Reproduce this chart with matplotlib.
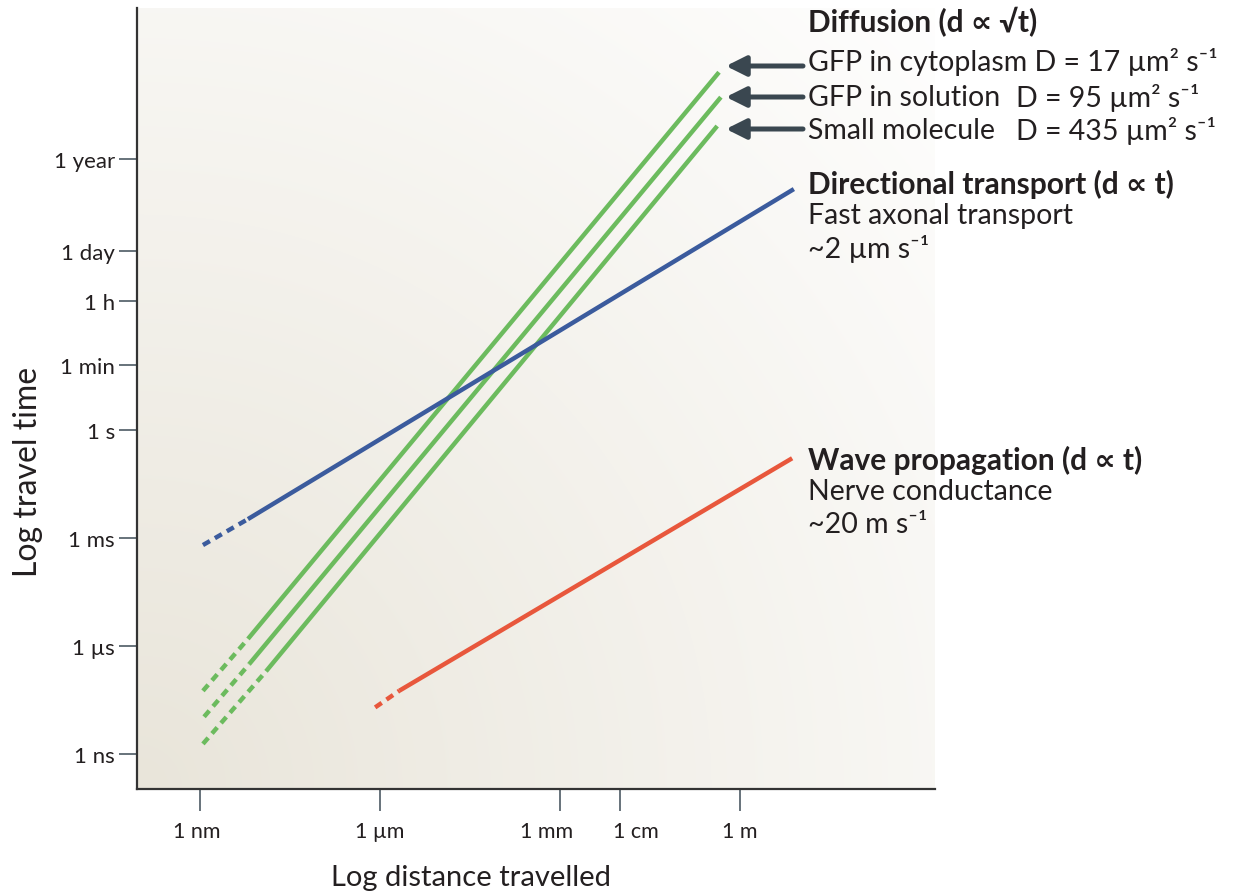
import numpy as np
import matplotlib
matplotlib.use('Agg')
import matplotlib.pyplot as plt
from matplotlib.transforms import ScaledTranslation

plt.rcParams['font.family'] = ['Lato', 'DejaVu Sans']

# tick positions (metres / seconds) and labels
xticks = [1e-9, 1e-6, 1e-3, 1e-2, 1.0]
xticklabels = ['1 nm', '1 \u00b5m', '1 mm', '1 cm', '1 m']
yticks = [1e-9, 1e-6, 1e-3, 1.0, 60.0, 3600.0, 86400.0, 3.156e7]
yticklabels = ['1 ns', '1 \u00b5s', '1 ms', '1 s', '1 min', '1 h', '1 day', '1 year']

# lines: [start of dashed part, start of solid part, end]
diff_names = ['GFP in cytoplasm', 'GFP in solution', 'Small molecule']
diff_D = [17, 95, 435]
diff_d = [[1.12e-9, 6.3e-9, 0.447],
          [1.17e-9, 6.6e-9, 0.48],
          [1.12e-9, 1.26e-8, 0.417]]
diff_t = [[5.75e-8, 1.58e-6, 7.94e9],
          [1.1e-8, 3.16e-7, 1.62e9],
          [1.95e-9, 2.0e-7, 2.57e8]]

axonal_d = [1.12e-9, 6.3e-9, 7.9]
axonal_t = [6.3e-4, 3.3e-3, 4.6e6]

nerve_d = [8.3e-7, 2.1e-6, 7.4]
nerve_t = [2.0e-8, 5.8e-8, 0.16]

green = '#6cbb5e'
blue = '#3b5b9d'
red = '#e8573c'
dark = '#3a4750'
txtcol = '#231f20'

W, H = 1240, 895
def fx(px):
    return px / W
def fy(py):
    return 1 - py / H

fig = plt.figure(figsize=(12.4, 8.95), dpi=100)
ax = fig.add_axes([fx(137), fy(790), fx(935) - fx(137), fy(9) - fy(790)])
ax.set_xscale('log')
ax.set_yscale('log')
ax.set_xlim(10**-10.05, 10**3.25)
ax.set_ylim(10**-9.96, 10**11.68)

# radial background from the lower left corner
nx, ny = 400, 400
aw, ah = 798, 781
gx, gy = np.meshgrid(np.linspace(0, aw, nx), np.linspace(0, ah, ny))
r = np.clip(np.sqrt(gx**2 + gy**2) / 1150.0, 0, 1)
c0 = np.array([233, 229, 218]) / 255.
c1 = np.array([1.0, 1.0, 1.0])
img = c0[None, None, :] + (c1 - c0)[None, None, :] * r[:, :, None]
ax.imshow(img, origin='lower', extent=[0, 1, 0, 1], transform=ax.transAxes,
          aspect='auto', zorder=0, interpolation='bilinear')

lw = 3.2
dash = (0, (1.8, 1.3))
def draw(d, t, color):
    ax.plot(d[:2], t[:2], color=color, lw=lw, linestyle=dash, zorder=3,
            dash_capstyle='butt')
    ax.plot(d[1:], t[1:], color=color, lw=lw, solid_capstyle='butt', zorder=3)

for d, t in zip(diff_d, diff_t):
    draw(d, t, green)
draw(axonal_d, axonal_t, blue)
draw(nerve_d, nerve_t, red)

# axes styling
for s in ['top', 'right']:
    ax.spines[s].set_visible(False)
for s in ['left', 'bottom']:
    ax.spines[s].set_color('#333333')
    ax.spines[s].set_linewidth(1.6)
ax.minorticks_off()
ax.set_xticks(xticks)
ax.set_xticklabels(xticklabels)
ax.set_yticks(yticks)
ax.set_yticklabels(yticklabels)
ax.tick_params(axis='x', length=16, width=1.2, color='#4d5a63', pad=7,
               labelsize=15.5, labelcolor=txtcol)
ax.tick_params(axis='y', length=13, width=1.2, color='#4d5a63', pad=3,
               labelsize=16, labelcolor=txtcol)
ax.xaxis.set_minor_locator(matplotlib.ticker.NullLocator())
ax.yaxis.set_minor_locator(matplotlib.ticker.NullLocator())

# mm and cm labels are pushed apart in the original
xlab = ax.get_xticklabels()
for lab, dx in zip(xlab, [-3, 0, -13, 16, 0]):
    lab.set_transform(lab.get_transform() + ScaledTranslation(dx / 100., 0, fig.dpi_scale_trans))

fig.text(fx(471), fy(878), 'Log distance travelled', ha='center', va='center',
         fontsize=21, color=txtcol)
fig.text(fx(28), fy(472), 'Log travel time', ha='center', va='center',
         rotation=90, fontsize=23, color=txtcol)

# annotations
fs = 20.5
fsb = 21.5
tx = fx(808)
fig.text(tx, fy(22), 'Diffusion (d \u221d \u221at)', fontsize=fsb, fontweight='bold',
         va='center', color=txtcol)
rows_y = [62, 98, 131]
for i, (name, D) in enumerate(zip(diff_names, diff_D)):
    if i == 0:
        fig.text(tx, fy(rows_y[i]), name + ' D = %d \u00b5m\u00b2 s\u207b\u00b9' % D,
                 fontsize=fs, va='center', color=txtcol)
    else:
        fig.text(tx, fy(rows_y[i]), name, fontsize=fs, va='center', color=txtcol)
        fig.text(fx(1016), fy(rows_y[i]), 'D = %d \u00b5m\u00b2 s\u207b\u00b9' % D,
                 fontsize=fs, va='center', color=txtcol)

arrow_y = [67, 98, 130]
for yy in arrow_y:
    fig.patches.append(matplotlib.patches.FancyArrowPatch(
        (fx(803), fy(yy)), (fx(726), fy(yy)), transform=fig.transFigure,
        arrowstyle='-|>,head_length=1.0,head_width=0.5', mutation_scale=12,
        lw=3.6, color=dark, shrinkA=0, shrinkB=0))

fig.text(tx, fy(184), 'Directional transport (d \u221d t)', fontsize=fsb,
         fontweight='bold', va='center', color=txtcol)
fig.text(tx, fy(216), 'Fast axonal transport', fontsize=fs, va='center', color=txtcol)
fig.text(tx, fy(249), '~2 \u00b5m s\u207b\u00b9', fontsize=fs, va='center', color=txtcol)

fig.text(tx, fy(460), 'Wave propagation (d \u221d t)', fontsize=fsb,
         fontweight='bold', va='center', color=txtcol)
fig.text(tx, fy(492), 'Nerve conductance', fontsize=fs, va='center', color=txtcol)
fig.text(tx, fy(525), '~20 m s\u207b\u00b9', fontsize=fs, va='center', color=txtcol)

fig.savefig('out.png', dpi=100)
